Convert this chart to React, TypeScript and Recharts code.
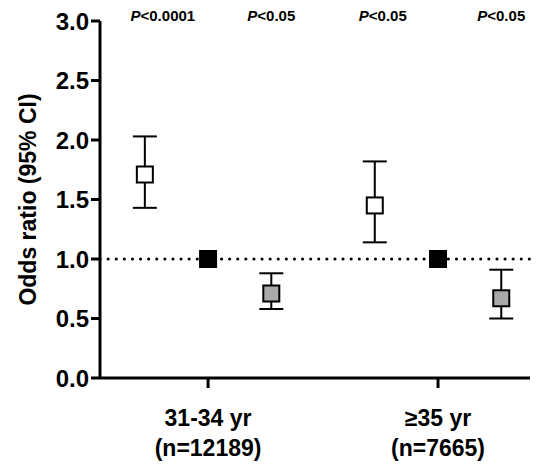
import { ScatterChart, Scatter, XAxis, YAxis, ErrorBar, ReferenceLine, LabelList } from "recharts";

const groups = ["31-34 yr", "≥35 yr"];
const groupN = ["(n=12189)", "(n=7665)"];
const whiteOR = [1.71, 1.45];
const whiteLo = [1.43, 1.14];
const whiteHi = [2.03, 1.82];
const grayOR = [0.71, 0.67];
const grayLo = [0.58, 0.5];
const grayHi = [0.88, 0.91];
const refOR = [1.0, 1.0];
const pLabels = ["<0.0001", "<0.05", "<0.05", "<0.05"];

const OFF = 0.275;
const FONT = "Arial, 'Liberation Sans', sans-serif";

const white = groups.map((_, i) => ({ x: i + 1 - OFF, y: whiteOR[i], err: [whiteOR[i] - whiteLo[i], whiteHi[i] - whiteOR[i]] }));
const gray = groups.map((_, i) => ({ x: i + 1 + OFF, y: grayOR[i], err: [grayOR[i] - grayLo[i], grayHi[i] - grayOR[i]] }));
const ref = groups.map((_, i) => ({ x: i + 1, y: refOR[i] }));
const pData = [white[0], gray[0], white[1], gray[1]].map((d, i) => ({ x: d.x, y: 3.0, p: pLabels[i] }));

const square = (fill: string) => (props: any) => {
  const { cx, cy } = props;
  return <rect x={cx - 8} y={cy - 8} width={16} height={16} fill={fill} stroke="#000" strokeWidth={2} />;
};

const XTick = (props: any) => {
  const { x, y, payload } = props;
  const i = Math.round(payload.value) - 1;
  return (
    <g>
      <text x={x} y={y + 36} textAnchor="middle" fontFamily={FONT} fontWeight="bold" fontSize={23} fill="#000">{groups[i]}</text>
      <text x={x} y={y + 66} textAnchor="middle" fontFamily={FONT} fontWeight="bold" fontSize={23} fill="#000">{groupN[i]}</text>
    </g>
  );
};

const PLabel = (props: any) => {
  const { x, y, width, value, index } = props;
  const cx = x + (width || 0) / 2 + (index === 0 ? 18 : index === 2 ? 8 : 0);
  return (
    <text x={cx} y={y + 5} textAnchor="middle" fontFamily={FONT} fontWeight="bold" fontSize={15} fill="#000">
      <tspan fontStyle="italic">P</tspan>{value}
    </text>
  );
};

export default function App() {
  return (
    <div style={{ position: "absolute", left: 0, top: 0, background: "#fff" }}>
      <ScatterChart width={542} height={472} margin={{ top: 21, right: 12, bottom: 64, left: 20 }}>
        <XAxis type="number" dataKey="x" domain={[0.53, 2.4]} ticks={[1, 2]} tick={<XTick />}
          stroke="#000" strokeWidth={3} tickSize={10} allowDataOverflow />
        <YAxis type="number" dataKey="y" domain={[0, 3]} ticks={[0, 0.5, 1, 1.5, 2, 2.5, 3]} width={80}
          tickFormatter={(v: number) => v.toFixed(1)} stroke="#000" strokeWidth={3} tickSize={9}
          tick={{ fill: "#000", fontSize: 24, fontWeight: "bold", fontFamily: FONT }}
          label={{ value: "Odds ratio (95% CI)", angle: -90, position: "insideLeft", offset: 0, dx: 8,
            style: { textAnchor: "middle", fill: "#000", fontSize: 23, fontWeight: "bold", fontFamily: FONT } }} />
        <ReferenceLine y={1} stroke="#000" strokeWidth={3} strokeDasharray="0.1 8" strokeLinecap="round" />
        <Scatter data={white} isAnimationActive={false} shape={square("#fff")}>
          <ErrorBar dataKey="err" direction="y" width={12} stroke="#000" strokeWidth={2} />
        </Scatter>
        <Scatter data={gray} isAnimationActive={false} shape={square("#aaa")}>
          <ErrorBar dataKey="err" direction="y" width={12} stroke="#000" strokeWidth={2} />
        </Scatter>
        <Scatter data={ref} isAnimationActive={false} shape={square("#000")} />
        <Scatter data={pData} isAnimationActive={false} shape={() => <g />}>
          <LabelList dataKey="p" content={<PLabel />} />
        </Scatter>
      </ScatterChart>
    </div>
  );
}
